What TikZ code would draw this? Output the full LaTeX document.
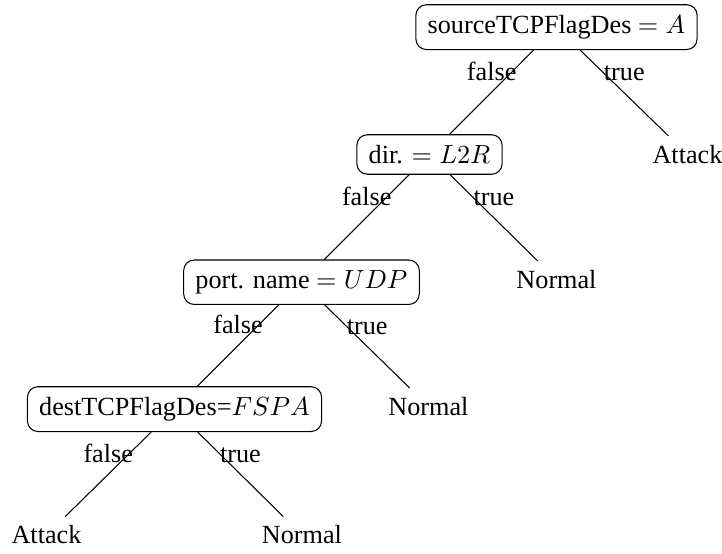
\documentclass[tikz,border=0pt]{standalone}
\usepackage[no-math]{fontspec}
\setmainfont{Liberation Serif}
\begin{document}
\begin{tikzpicture}[x=0.3817pt,y=-0.3817pt,
  test/.style={draw,rounded corners=4pt,inner ysep=4pt,inner xsep=4.5pt,anchor=base,line width=0.4pt},
  leaf/.style={anchor=base},
  lbl/.style={midway,above=1.3pt,inner sep=3pt},
  br/.style={line width=0.4pt}]
\useasboundingbox (0,0) rectangle (722,554);
\node[test] (root) at (556.5,33.4) {sourceTCPFlagDes $= A$};
\node[test] (dir) at (429.5,163.4) {dir. $= L2R$};
\node[leaf] (att1) at (687.5,163.4) {Attack};
\node[test] (port) at (301.5,288.4) {port. name $= UDP$};
\node[leaf] (nor1) at (556.5,288.4) {Normal};
\node[test] (dest) at (174.5,415.4) {destTCPFlagDes=$FSPA$};
\node[leaf] (nor2) at (428.5,415.4) {Normal};
\node[leaf] (att2) at (46.5,544) {Attack};
\node[leaf] (nor3) at (302,544) {Normal};
\draw[br] (root) -- node[lbl] (f1) {false} (dir);
\draw[br] (root) -- node[lbl] (t1) {true} (att1);
\draw[br] (dir) -- node[lbl] (f2) {false} (port);
\draw[br] (dir) -- node[lbl] (t2) {true} (nor1);
\draw[br] (port) -- node[lbl] (f3) {false} (dest);
\draw[br] (port) -- node[lbl] (t3) {true} (nor2);
\draw[br] (dest) -- node[lbl] (f4) {false} (att2);
\draw[br] (dest) -- node[lbl] (t4) {true} (nor3);
\end{tikzpicture}
\end{document}
